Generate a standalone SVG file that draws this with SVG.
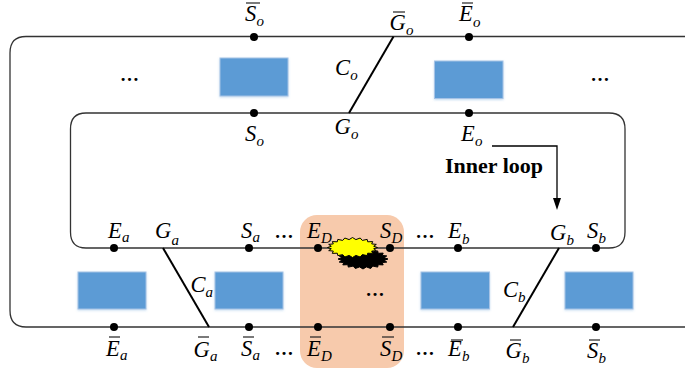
<svg xmlns="http://www.w3.org/2000/svg" width="685" height="371" viewBox="0 0 685 371">
<style>
text{font-family:"Liberation Serif","Times New Roman",serif;fill:#000}
.m{font-size:22.5px;font-style:italic}
.s{font-size:15px;font-style:italic}
.d{font-size:19px;font-weight:bold;text-anchor:middle}
.b{font-size:22px;font-weight:bold}
.l{fill:none;stroke:#333;stroke-width:1.3}
.k{fill:none;stroke:#000;stroke-width:2}
.o{stroke:#222;stroke-width:1.2}
.r{fill:#5b9bd5;stroke:#a6c3e6;stroke-width:1;filter:url(#sh)}
circle{fill:#000}
</style>
<defs>
<filter id="sh" x="-10%" y="-10%" width="120%" height="125%"><feDropShadow dx="0" dy="1" stdDeviation="1.2" flood-color="#5b9bd5" flood-opacity="0.35"/></filter>
<polygon id="burst" points="25,0 21.2,1.2 23.8,3.1 19.2,3.6 20.2,5.9 15.2,5.7 14.7,8.1 9.8,7.1 7.7,9.5 3.4,7.9 0,10 -3.4,7.9 -7.7,9.5 -9.8,7.1 -14.7,8.1 -15.2,5.7 -20.2,5.9 -19.2,3.6 -23.8,3.1 -21.2,1.2 -25,0 -21.2,-1.2 -23.8,-3.1 -19.2,-3.6 -20.2,-5.9 -15.2,-5.7 -14.7,-8.1 -9.8,-7.1 -7.7,-9.5 -3.4,-7.9 0,-10 3.4,-7.9 7.7,-9.5 9.8,-7.1 14.7,-8.1 15.2,-5.7 20.2,-5.9 19.2,-3.6 23.8,-3.1 21.2,-1.2"/>
</defs>
<rect id="fault-zone" x="300" y="215" width="104" height="153" rx="17" fill="#f7caac"/>
<g id="connectors">
<path class="l" d="M700 36.5H26Q10 36.5 10 53V310.500Q10 327 26 327H700"/>
<path class="l" d="M86 113H609Q625 113 625 129V232Q625 248 609 248H86Q70.500 248 70.500 232V129Q70.500 113 86 113Z"/>
<path class="k" d="M393.500 36.500 349 113"/>
<path class="k" d="M163 248 209 327"/>
<path class="k" d="M559 248 513 327"/>
<path fill="none" stroke="#000" stroke-width="1.300" d="M492 146H557V199"/>
<path d="M553 198H561L557 210Z" fill="#000"/>
</g>
<g id="fault-burst">
<use href="#burst" transform="translate(363 259)" fill="#000" stroke="#000"/>
<use href="#burst" transform="translate(352.500 247.500)" fill="#ff0" stroke="#000" stroke-width="1"/>
</g>
<g id="blocks">
<rect id="block-o1" class="r" x="220" y="58" width="68" height="38"/>
<rect id="block-o2" class="r" x="434.500" y="61" width="68.500" height="37.500"/>
<rect id="block-a1" class="r" x="78" y="272" width="68" height="37"/>
<rect id="block-a2" class="r" x="215" y="272" width="68" height="37"/>
<rect id="block-b1" class="r" x="421" y="272" width="68.500" height="37"/>
<rect id="block-b2" class="r" x="565" y="272" width="68" height="37"/>
</g>
<g id="ellipses">
<text class="d" x="129.500" y="81">…</text><text class="d" x="600" y="81">…</text>
<text class="d" x="284" y="238">…</text><text class="d" x="425" y="238">…</text>
<text class="d" x="375" y="296">…</text>
<text class="d" x="284" y="355">…</text><text class="d" x="425" y="355">…</text>
</g>
<g id="node-Sbar-o"><circle cx="254" cy="37" r="4"/><line class="o" x1="246" x2="260" y1="3" y2="3"/><text class="m" x="245" y="21">S<tspan class="s" x="256.500" y="26">o</tspan></text></g>
<g id="node-Gbar-o"><line class="o" x1="393" x2="405" y1="12" y2="12"/><text class="m" x="389.500" y="30">G<tspan class="s" x="406" y="35">o</tspan></text></g>
<g id="node-Ebar-o"><circle cx="469" cy="37" r="4"/><line class="o" x1="462" x2="473" y1="3" y2="3"/><text class="m" x="459" y="21">E<tspan class="s" x="473" y="27">o</tspan></text></g>
<g id="label-C-o"><text class="m" x="335" y="75">C<tspan class="s" x="350.200" y="80">o</tspan></text></g>
<g id="node-S-o"><circle cx="254" cy="113" r="4"/><text class="m" x="245" y="141">S<tspan class="s" x="256.500" y="146">o</tspan></text></g>
<g id="node-G-o"><text class="m" x="334.500" y="134">G<tspan class="s" x="351" y="139">o</tspan></text></g>
<g id="node-E-o"><circle cx="469" cy="113" r="4"/><text class="m" x="461" y="141">E<tspan class="s" x="475" y="146">o</tspan></text></g>
<text id="label-inner-loop" class="b" x="445" y="173">Inner loop</text>
<g id="node-E-a"><circle cx="114" cy="248" r="4"/><text class="m" x="108" y="238">E<tspan class="s" x="122" y="242">a</tspan></text></g>
<g id="node-G-a"><text class="m" x="155" y="238">G<tspan class="s" x="171.500" y="245">a</tspan></text></g>
<g id="node-S-a"><circle cx="249" cy="248" r="4"/><text class="m" x="241" y="238">S<tspan class="s" x="252.500" y="242">a</tspan></text></g>
<g id="node-E-D"><circle cx="318" cy="248" r="4"/><text class="m" x="307" y="238">E<tspan class="s" x="321" y="243">D</tspan></text></g>
<g id="node-S-D"><circle cx="390" cy="248" r="4"/><text class="m" x="380" y="238">S<tspan class="s" x="391.500" y="243">D</tspan></text></g>
<g id="node-E-b"><circle cx="458" cy="248" r="4"/><text class="m" x="448" y="238">E<tspan class="s" x="462" y="244">b</tspan></text></g>
<g id="node-G-b"><text class="m" x="550" y="240">G<tspan class="s" x="566.500" y="245">b</tspan></text></g>
<g id="node-S-b"><circle cx="596" cy="248" r="4"/><text class="m" x="587" y="238">S<tspan class="s" x="598.500" y="243">b</tspan></text></g>
<g id="label-C-a"><text class="m" x="190.500" y="292">C<tspan class="s" x="205.500" y="297">a</tspan></text></g>
<g id="label-C-b"><text class="m" x="503" y="297">C<tspan class="s" x="518" y="302">b</tspan></text></g>
<g id="node-Ebar-a"><circle cx="114" cy="327" r="4"/><line class="o" x1="109" x2="120" y1="337" y2="337"/><text class="m" x="106" y="356">E<tspan class="s" x="120" y="360">a</tspan></text></g>
<g id="node-Gbar-a"><line class="o" x1="198" x2="209" y1="337" y2="337"/><text class="m" x="193.500" y="357">G<tspan class="s" x="210" y="361">a</tspan></text></g>
<g id="node-Sbar-a"><circle cx="249" cy="327" r="4"/><line class="o" x1="243" x2="254" y1="337" y2="337"/><text class="m" x="241" y="356">S<tspan class="s" x="252.500" y="360">a</tspan></text></g>
<g id="node-Ebar-D"><circle cx="318" cy="327" r="4"/><line class="o" x1="310" x2="321" y1="337" y2="337"/><text class="m" x="307" y="356">E<tspan class="s" x="321" y="361">D</tspan></text></g>
<g id="node-Sbar-D"><circle cx="390" cy="327" r="4"/><line class="o" x1="382" x2="394" y1="337" y2="337"/><text class="m" x="380" y="356">S<tspan class="s" x="391.500" y="361">D</tspan></text></g>
<g id="node-Ebar-b"><circle cx="458" cy="327" r="4"/><line class="o" x1="451" x2="463" y1="340" y2="340"/><text class="m" x="448" y="356">E<tspan class="s" x="462" y="361">b</tspan></text></g>
<g id="node-Gbar-b"><line class="o" x1="510" x2="521" y1="340" y2="340"/><text class="m" x="505.500" y="358">G<tspan class="s" x="522" y="363">b</tspan></text></g>
<g id="node-Sbar-b"><circle cx="596" cy="327" r="4"/><line class="o" x1="589" x2="600" y1="340" y2="340"/><text class="m" x="587" y="358">S<tspan class="s" x="598.500" y="363">b</tspan></text></g>
</svg>
